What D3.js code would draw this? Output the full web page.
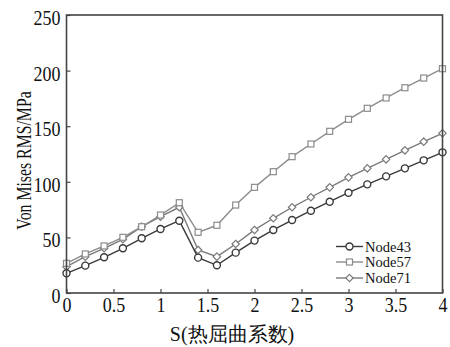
<!DOCTYPE html>
<html><head><meta charset="utf-8">
<script src="https://cdn.jsdelivr.net/npm/d3@7"></script>
<style>body{margin:0;background:#fff}svg{display:block}</style>
</head><body>
<svg id="c" width="450" height="347"></svg>
<script>
const xValues = [0,0.2,0.4,0.6,0.8,1.0,1.2,1.4,1.6,1.8,2.0,2.2,2.4,2.6,2.8,3.0,3.2,3.4,3.6,3.8,4.0];
const node43 = [17.7,24.6,32.1,40.2,49.2,57.6,65.0,31.8,24.9,36.3,47.1,56.7,65.6,74.0,82.1,90.2,97.7,104.9,112.1,119.3,126.5];
const node57 = [26.7,35.1,42.3,50.1,59.6,70.1,81.2,54.6,60.9,79.1,95.0,109.1,122.6,134.0,145.4,156.2,166.1,175.4,184.6,193.3,201.7];
const node71 = [23.7,32.7,40.2,48.3,59.6,68.6,77.1,38.7,32.7,44.1,56.7,67.2,77.1,86.1,95.0,104.0,112.1,120.2,128.3,136.1,143.6];
const seriesNames = ["Node43","Node57","Node71"];
const xTicks = [0,0.5,1,1.5,2,2.5,3,3.5,4];
const xTickLabels = ["0","0.5","1","1.5","2","2.5","3","3.5","4"];
const yTicks = [0,50,100,150,200,250];
const xTitle = "S(热屈曲系数)";
const yTitle = "Von Mises RMS/MPa";

const series = [
  {name: seriesNames[0], values: node43, color: "#3a3a3a", marker: "circle"},
  {name: seriesNames[1], values: node57, color: "#8c8c8c", marker: "square"},
  {name: seriesNames[2], values: node71, color: "#7a7a7a", marker: "diamond"}
];

const svg = d3.select("#c");
const L = 66.5, R = 442.5, T = 15, B = 293;
const x = d3.scaleLinear().domain([0,4]).range([L,R]);
const y = d3.scaleLinear().domain([0,250]).range([B,T]);
const font = '"Liberation Serif","DejaVu Serif",serif';

const line = d3.line().x((d,i)=>x(xValues[i])).y(d=>y(d));
function drawMarker(g, type, cx, cy, color) {
  if (type === "circle") {
    g.append("circle").attr("cx",cx).attr("cy",cy).attr("r",3.5)
      .attr("fill","#fff").attr("stroke",color).attr("stroke-width",1.4);
  } else if (type === "square") {
    g.append("rect").attr("x",cx-3).attr("y",cy-3).attr("width",6).attr("height",6)
      .attr("fill","#fff").attr("stroke",color).attr("stroke-width",1.2);
  } else {
    const s = 3.7;
    g.append("path").attr("d",`M${cx},${cy-s}L${cx+s},${cy}L${cx},${cy+s}L${cx-s},${cy}Z`)
      .attr("fill","#fff").attr("stroke",color).attr("stroke-width",1.2);
  }
}
series.slice().reverse().forEach(s => {
  const g = svg.append("g");
  g.append("path").datum(s.values).attr("d",line).attr("fill","none")
    .attr("stroke",s.color).attr("stroke-width",1.4);
  s.values.forEach((v,i)=>drawMarker(g, s.marker, x(xValues[i]), y(v), s.color));
});

// vertical stretch of text about its baseline, to match the tall serif glyphs
function stretch(sel, baseY, k) {
  sel.attr("y", baseY).attr("dy", 0)
     .attr("transform", `translate(0,${baseY}) scale(1,${k}) translate(0,${-baseY})`);
}

const xAxis = d3.axisBottom(x).tickValues(xTicks).tickFormat((d,i)=>xTickLabels[i]).tickSizeInner(-4).tickSizeOuter(0).tickPadding(6);
const gx = svg.append("g").attr("transform",`translate(0,${B})`).call(xAxis);
const yAxis = d3.axisLeft(y).tickValues(yTicks).tickSizeInner(-4).tickSizeOuter(0).tickPadding(6);
const gy = svg.append("g").attr("transform",`translate(${L},0)`).call(yAxis);
[gx,gy].forEach(g=>{
  g.attr("font-family",null);
  g.select(".domain").remove();
  g.selectAll(".tick line").attr("stroke","#444").attr("stroke-width",1.2);
  g.selectAll("text").style("font-family",font).attr("font-size",18).attr("fill","#111");
});
stretch(gx.selectAll("text"), 19, 1.2);
stretch(gy.selectAll("text"), 9.5, 1.2);

svg.append("rect").attr("x",L).attr("y",T).attr("width",R-L).attr("height",B-T)
  .attr("fill","none").attr("stroke","#444").attr("stroke-width",1.6);

svg.append("text").attr("x",232).attr("y",341).attr("text-anchor","middle")
  .style("font-family",font).attr("font-size",20).attr("fill","#111").text(xTitle);
svg.append("text").attr("transform",`translate(31,160.5) rotate(-90) scale(1,1.3)`).attr("text-anchor","middle")
  .style("font-family",font).attr("font-size",15.8).attr("fill","#111").text(yTitle);

const legY = [246.5, 262, 278];
series.forEach((s,i)=>{
  const g = svg.append("g");
  g.append("line").attr("x1",336).attr("x2",363).attr("y1",legY[i]).attr("y2",legY[i])
    .attr("stroke",s.color).attr("stroke-width",1.4);
  drawMarker(g, s.marker, 349.5, legY[i], s.color);
  g.append("text").attr("x",365).attr("y",legY[i]).attr("dy","0.36em")
    .style("font-family",font).attr("font-size",14.5).attr("fill","#111").text(s.name);
});
</script>
</body></html>
